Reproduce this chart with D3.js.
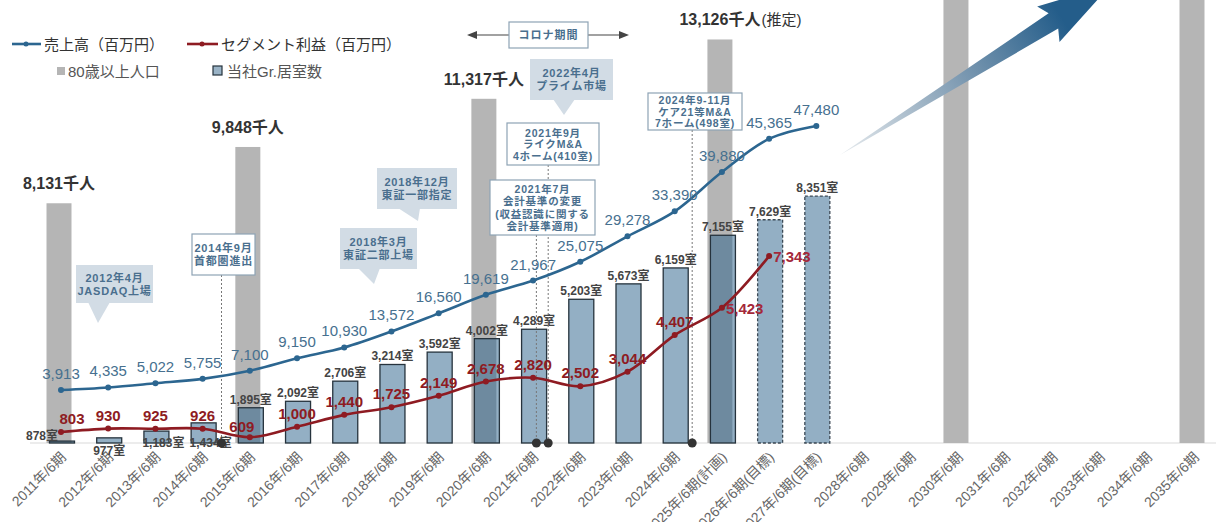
<!DOCTYPE html>
<html>
<head>
<meta charset="utf-8">
<script src="https://cdn.jsdelivr.net/npm/d3@7"></script>
<style>
  body { margin: 0; background: #fff; }
  svg { display: block; font-family: "Liberation Sans", "Noto Sans CJK JP", sans-serif; }
</style>
</head>
<body>
<svg id="chart" width="1223" height="522"></svg>
<script>
// categories (fiscal years)
const years = [2011, 2012, 2013, 2014, 2015, 2016, 2017, 2018, 2019, 2020, 2021, 2022, 2023,
  2024, 2025, 2026, 2027, 2028, 2029, 2030, 2031, 2032, 2033, 2034, 2035];
const yearLabels = years.map(y => y + "年/6期" + (y === 2025 ? "(計画)" : (y === 2026 || y === 2027) ? "(目標)" : ""));

// 売上高（百万円）
const sales = [3913, 4335, 5022, 5755, 7100, 9150, 10930, 13572, 16560, 19619, 21967, 25075,
  29278, 33390, 39880, 45365, 47480];
// セグメント利益（百万円）
const profit = [803, 930, 925, 926, 609, 1000, 1440, 1725, 2149, 2678, 2820, 2502, 3044,
  4407, 5423, 7343];
// 当社Gr.居室数
const rooms = [878, 977, 1183, 1434, 1895, 2092, 2706, 3214, 3592, 4002, 4289, 5203, 5673,
  6159, 7155, 7629, 8351];
// 80歳以上人口（千人） — 2030/2035 unlabeled, bars run off the top
const popYears = [2011, 2015, 2020, 2025, 2030, 2035];
const popValues = [8131, 9848, 11317, 13126, 15200, 16300];
const popShow = [true, true, true, true, false, false];

const svg = d3.select("#chart");
const base = 443;

const x = d3.scalePoint().domain(years).range([61, 1194]);
const step = x.step();
const yPop = d3.scaleLinear().domain([820, 14330]).range([base, 0]);   // shared by rooms and population
const ySales = d3.scaleLinear().domain([-4833, 68270]).range([base, 0]);
const yProfit = d3.scaleLinear().domain([394, 16862]).range([base, 0]);
const barW = 25;

const blue = "#2c6690", red = "#8e1b22";
const fmt = d3.format(",");

// baseline
svg.append("line").attr("x1", 30).attr("x2", 1216).attr("y1", base).attr("y2", base)
  .attr("stroke", "#d9d9d9").attr("stroke-width", 1.2);

// x labels
svg.append("g").selectAll("text").data(years).join("text")
  .attr("transform", d => `translate(${x(d) + 6},${base + 15}) rotate(-45)`)
  .attr("text-anchor", "end")
  .attr("font-size", 14)
  .attr("fill", "#666")
  .text((d, i) => yearLabels[i]);

// population bars
const defs = svg.append("defs");
svg.append("g").selectAll("rect").data(popValues).join("rect")
  .attr("x", (d, i) => x(popYears[i]) - barW / 2 - 2)
  .attr("y", d => Math.max(0, yPop(d)))
  .attr("width", barW)
  .attr("height", d => base - Math.max(0, yPop(d)))
  .attr("fill", "#b5b5b5");

svg.append("g").selectAll("text").data(popValues).join("text")
  .filter((d, i) => popShow[i])
  .attr("x", (d, i) => x(popYears[i]) - 2)
  .attr("y", d => yPop(d) - 14)
  .attr("text-anchor", "middle")
  .attr("font-size", 16).attr("font-weight", "bold").attr("fill", "#333")
  .text(d => fmt(d) + "千人")
  .each(function (d, i) {
    if (popYears[i] === 2025) {
      const w = this.getComputedTextLength();
      svg.append("text")
        .attr("x", x(popYears[i]) - 2 + w / 2 + 1).attr("y", yPop(d) - 14)
        .attr("font-size", 15).attr("fill", "#333").text("(推定)");
    }
  });

// room bars
svg.append("g").selectAll("rect").data(rooms).join("rect")
  .attr("x", (d, i) => x(years[i]) - barW / 2 + 1)
  .attr("y", d => yPop(d))
  .attr("width", barW)
  .attr("height", d => base - yPop(d))
  .attr("fill", "rgba(40,96,138,0.5)")
  .attr("stroke", (d, i) => i >= 15 ? "#3c4a56" : "#26333d")
  .attr("stroke-width", 1.3)
  .attr("stroke-dasharray", (d, i) => i >= 15 ? "3,2" : null);

// room labels
svg.append("g").selectAll("text").data(rooms).join("text")
  .attr("x", (d, i) => i === 0 ? x(years[i]) - 3 : i >= 2 && i <= 3 ? x(years[i]) + 8 : x(years[i]) + 1)
  .attr("y", (d, i) => i === 0 ? base - 3 : i === 1 ? base + 12 : i <= 3 ? base + 4 : yPop(d) - 4)
  .attr("text-anchor", (d, i) => i === 0 ? "end" : "middle")
  .attr("font-size", 12).attr("font-weight", "bold").attr("fill", "#444")
  .text(d => fmt(d) + "室");

// event markers: dotted lines down to baseline with dots
const events = [
  { year: 2014, frac: 0.4, top: 275 },
  { year: 2021, frac: 0.07, top: 235 },
  { year: 2021, frac: 0.32, top: 165 },
  { year: 2024, frac: 0.37, top: 130 }
];
events.forEach(e => {
  const ex = x(e.year) + e.frac * step;
  svg.append("line").attr("x1", ex).attr("x2", ex).attr("y1", e.top).attr("y2", base)
    .attr("stroke", "#777").attr("stroke-width", 1).attr("stroke-dasharray", "2,2");
  svg.append("circle").attr("cx", ex).attr("cy", base).attr("r", 4.5).attr("fill", "#333");
});

// lines
const salesLine = d3.line().x((d, i) => x(years[i])).y(d => ySales(d)).curve(d3.curveCatmullRom.alpha(0.5));
const profitLine = d3.line().x((d, i) => x(years[i])).y(d => yProfit(d)).curve(d3.curveCatmullRom.alpha(0.5));

svg.append("path").datum(sales).attr("d", salesLine)
  .attr("fill", "none").attr("stroke", blue).attr("stroke-width", 2.6);
svg.append("g").selectAll("circle").data(sales).join("circle")
  .attr("cx", (d, i) => x(years[i])).attr("cy", d => ySales(d)).attr("r", 3).attr("fill", blue);

svg.append("path").datum(profit).attr("d", profitLine)
  .attr("fill", "none").attr("stroke", red).attr("stroke-width", 2.6);
svg.append("g").selectAll("circle").data(profit).join("circle")
  .attr("cx", (d, i) => x(years[i])).attr("cy", d => yProfit(d)).attr("r", 3).attr("fill", red);

// sales labels
svg.append("g").selectAll("text").data(sales).join("text")
  .attr("x", (d, i) => x(years[i]))
  .attr("y", d => ySales(d) - 11)
  .attr("text-anchor", "middle")
  .attr("font-size", 15).attr("fill", "#46708f")
  .text(d => fmt(d));

// profit labels
svg.append("g").selectAll("text").data(profit).join("text")
  .attr("x", (d, i) => i >= 14 ? x(years[i]) + 4 : i === 4 ? x(years[i]) - 8 : i === 0 ? x(years[i]) + 11 : x(years[i]))
  .attr("y", (d, i) => i >= 14 ? yProfit(d) + 6 : i === 4 ? yProfit(d) - 5 : yProfit(d) - 8)
  .attr("text-anchor", (d, i) => i >= 14 ? "start" : "middle")
  .attr("font-size", 15).attr("font-weight", "bold").attr("fill", (d, i) => i >= 14 ? "#a4283a" : red)
  .text(d => fmt(d));

// callouts
const callouts = [
  { x: 76, y: 265, w: 77, h: 38, fill: true, tail: [88, 110, 98, 323], lines: ["2012年4月", "JASDAQ上場"] },
  { x: 192, y: 234, w: 63, h: 41, fill: false, lines: ["2014年9月", "首都圏進出"] },
  { x: 340, y: 228, w: 77, h: 41, fill: true, tail: [358, 380, 374, 284], lines: ["2018年3月", "東証二部上場"] },
  { x: 377, y: 168, w: 80, h: 41, fill: true, tail: [398, 420, 418, 221], lines: ["2018年12月", "東証一部指定"] },
  { x: 490, y: 180, w: 105, h: 55, fill: false, lines: ["2021年7月", "会計基準の変更", "(収益認識に関する", "会計基準適用)"] },
  { x: 507, y: 123, w: 92, h: 42, fill: false, lines: ["2021年9月", "ライクM&A", "4ホーム(410室)"] },
  { x: 530, y: 59, w: 83, h: 41, fill: true, tail: [553, 575, 564, 115], lines: ["2022年4月", "プライム市場"] },
  { x: 648, y: 93, w: 94, h: 37, fill: false, lines: ["2024年9-11月", "ケア21等M&A", "7ホーム(498室)"] }
];
callouts.forEach(c => {
  const g = svg.append("g");
  if (c.tail) {
    g.append("path")
      .attr("d", `M${c.tail[0]},${c.y + c.h - 1}L${c.tail[2]},${c.tail[3]}L${c.tail[1]},${c.y + c.h - 1}Z`)
      .attr("fill", "#d2dce5");
  }
  g.append("rect").attr("x", c.x).attr("y", c.y).attr("width", c.w).attr("height", c.h)
    .attr("fill", c.fill ? "#d2dce5" : "#fff")
    .attr("stroke", c.fill ? "none" : "#8ea3b5").attr("stroke-width", 1.2);
  const lh = c.lines.length > 3 ? 12.5 : c.lines.length > 2 ? 11.5 : 13;
  const y0 = c.y + c.h / 2 - (c.lines.length - 1) * lh / 2 + 4;
  c.lines.forEach((t, k) => {
    g.append("text").attr("x", c.x + c.w / 2).attr("y", y0 + k * lh)
      .attr("text-anchor", "middle").attr("font-size", c.lines.length > 2 ? 10.5 : 11)
      .attr("font-weight", "bold").attr("letter-spacing", 0.8)
      .attr("fill", "#4a6f8e").text(t);
  });
});

// コロナ期間
const cg = svg.append("g");
cg.append("line").attr("x1", 474).attr("x2", 622).attr("y1", 35).attr("y2", 35)
  .attr("stroke", "#444").attr("stroke-width", 1.2);
cg.append("path").attr("d", "M467,35L477,31L477,39Z").attr("fill", "#444");
cg.append("path").attr("d", "M629,35L619,31L619,39Z").attr("fill", "#444");
cg.append("rect").attr("x", 509).attr("y", 22).attr("width", 79).attr("height", 26)
  .attr("fill", "#fff").attr("stroke", "#8ea3b5").attr("stroke-width", 1.2);
cg.append("text").attr("x", 548.5).attr("y", 39).attr("text-anchor", "middle")
  .attr("font-size", 11).attr("font-weight", "bold").attr("letter-spacing", 1)
  .attr("fill", "#4a6f8e").text("コロナ期間");

// big gradient arrow
const grad = defs.append("linearGradient").attr("id", "arrowGrad")
  .attr("gradientUnits", "userSpaceOnUse")
  .attr("x1", 840).attr("y1", 155).attr("x2", 1060).attr("y2", 15);
grad.append("stop").attr("offset", 0).attr("stop-color", "#e8ecef");
grad.append("stop").attr("offset", 0.55).attr("stop-color", "#7d9ab2");
grad.append("stop").attr("offset", 1).attr("stop-color", "#245d8a");
const ang = Math.atan2(-157, 250);
const ux = Math.cos(ang), uy = Math.sin(ang), nx = -uy, ny = ux;
const ax = 840, ay = 155;
const pt = (a, p) => [ax + ux * a + nx * p, ay + uy * a + ny * p];
const arrowPts = [pt(0, 0), pt(252, 9), pt(246, 21), pt(320, 0), pt(246, -21), pt(252, -9)];
svg.append("path").attr("d", "M" + arrowPts.map(p => p.join(",")).join("L") + "Z")
  .attr("fill", "url(#arrowGrad)");

// legend
const lg = svg.append("g");
lg.append("line").attr("x1", 12).attr("x2", 41).attr("y1", 44).attr("y2", 44).attr("stroke", blue).attr("stroke-width", 2.6);
lg.append("circle").attr("cx", 26).attr("cy", 44).attr("r", 2.5).attr("fill", blue);
lg.append("text").attr("x", 44).attr("y", 50).attr("font-size", 15).attr("fill", "#333").text("売上高（百万円）");
lg.append("line").attr("x1", 187).attr("x2", 218).attr("y1", 44).attr("y2", 44).attr("stroke", red).attr("stroke-width", 2.6);
lg.append("circle").attr("cx", 202).attr("cy", 44).attr("r", 2.5).attr("fill", red);
lg.append("text").attr("x", 221).attr("y", 50).attr("font-size", 15).attr("fill", "#333").text("セグメント利益（百万円）");
lg.append("rect").attr("x", 57).attr("y", 67).attr("width", 8).attr("height", 8).attr("fill", "#b5b5b5");
lg.append("text").attr("x", 68).attr("y", 77).attr("font-size", 15).attr("fill", "#555").text("80歳以上人口");
lg.append("rect").attr("x", 213).attr("y", 66).attr("width", 9).attr("height", 9)
  .attr("fill", "#9ab3c6").attr("stroke", "#26333d").attr("stroke-width", 1.2);
lg.append("text").attr("x", 227).attr("y", 77).attr("font-size", 15).attr("fill", "#555").text("当社Gr.居室数");
</script>
</body>
</html>
